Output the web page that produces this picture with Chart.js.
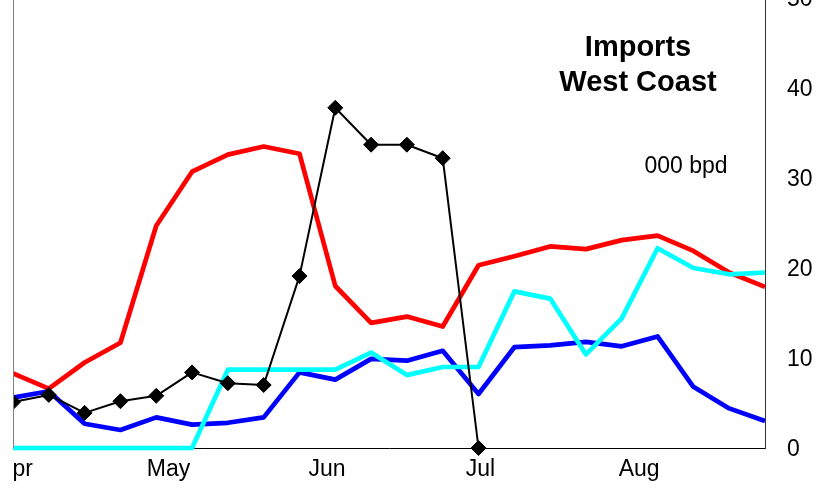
<!DOCTYPE html>
<html>
<head>
<meta charset="utf-8">
<script src="https://cdn.jsdelivr.net/npm/chart.js@4/dist/chart.umd.min.js"></script>
<style>
  html, body { margin: 0; padding: 0; background: #fff; overflow: hidden; }
  body { width: 824px; height: 498px; position: relative; }
  #wrap { position: absolute; left: -20px; top: -20px; width: 864px; height: 538px; }
</style>
</head>
<body>
<div id="wrap"><canvas id="chart_imports"></canvas></div>
<script>
// weekly points, days counted from 1 April
const weekDays = [0, 7, 14, 21, 28, 35, 42, 49, 56, 63, 70, 77, 84, 91, 98, 105, 112, 119, 126, 133, 140, 147];
const monthTicks = [0, 30, 61, 91, 122];
const monthLabels = ['Apr', 'May', 'Jun', 'Jul', 'Aug'];
const yTicks = [0, 10, 20, 30, 40, 50];

const redSeries   = [8.3, 6.6, 9.5, 11.7, 24.7, 30.7, 32.6, 33.5, 32.7, 18.0, 13.9, 14.6, 13.5, 20.3, 21.3, 22.4, 22.1, 23.1, 23.6, 21.9, 19.5, 17.9];
const blueSeries  = [5.6, 6.3, 2.7, 2.0, 3.4, 2.6, 2.8, 3.4, 8.4, 7.6, 9.9, 9.7, 10.8, 6.0, 11.2, 11.4, 11.8, 11.3, 12.4, 6.8, 4.4, 3.0];
const cyanSeries  = [0, 0, 0, 0, 0, 0, 8.7, 8.7, 8.7, 8.7, 10.6, 8.1, 9.0, 9.0, 17.4, 16.6, 10.4, 14.4, 22.2, 20.0, 19.3, 19.5];
const blackSeries = [5.1, 5.9, 3.9, 5.2, 5.8, 8.4, 7.2, 7.0, 19.1, 37.8, 33.7, 33.7, 32.2, 0, null, null, null, null, null, null, null, null];

const FONT = "'Liberation Sans', Arial, sans-serif";

function pts(values) {
    return weekDays.map((d, i) => ({ x: d, y: values[i] }));
}

const textPlugin = {
    id: 'textPlugin',
    afterDraw(chart) {
        const ctx = chart.ctx;
        const a = chart.chartArea;
        ctx.save();
        // the picture is cut at the left edge of the plot
        ctx.fillStyle = '#fff';
        ctx.fillRect(0, 0, Math.round(a.left), chart.height);
        ctx.strokeStyle = '#808080';
        ctx.lineWidth = 1;
        ctx.beginPath();
        ctx.moveTo(Math.round(a.left) + 0.5, 0);
        ctx.lineTo(Math.round(a.left) + 0.5, a.bottom);
        ctx.stroke();

        ctx.fillStyle = '#000';
        ctx.textAlign = 'center';
        ctx.textBaseline = 'middle';
        ctx.font = 'bold 29px ' + FONT;
        ctx.fillText('Imports', a.right - 127, a.top + 50);
        ctx.fillText('West Coast', a.right - 127, a.top + 85);
        ctx.font = '23px ' + FONT;
        ctx.fillText('000 bpd', a.right - 79, a.top + 169);
        ctx.restore();
    }
};

function ChartInit() {
    const ctx = document.getElementById('chart_imports').getContext('2d');
    const myChart = new Chart(ctx, {
        type: 'line',
        data: {
            datasets: [{
                label: 'black',
                data: pts(blackSeries),
                borderColor: '#000',
                backgroundColor: '#000',
                borderWidth: 2,
                pointStyle: 'rectRot',
                pointRadius: 7.5,
                pointBorderWidth: 1,
                spanGaps: false,
                clip: false,
                order: 1
            }, {
                label: 'cyan',
                data: pts(cyanSeries),
                borderColor: '#00FFFF',
                borderWidth: 4.7,
                pointRadius: 0,
                clip: false,
                order: 2
            }, {
                label: 'blue',
                data: pts(blueSeries),
                borderColor: '#0000FF',
                borderWidth: 4.7,
                pointRadius: 0,
                clip: false,
                order: 3
            }, {
                label: 'red',
                data: pts(redSeries),
                borderColor: '#FF0000',
                borderWidth: 4.7,
                pointRadius: 0,
                clip: false,
                order: 4
            }]
        },
        options: {
            responsive: true,
            maintainAspectRatio: false,
            animation: false,
            layout: { padding: { left: 33, top: 18, right: 0, bottom: 0 } },
            elements: { line: { tension: 0, borderJoinStyle: 'round', borderCapStyle: 'butt' } },
            plugins: { legend: { display: false }, tooltip: { enabled: false } },
            scales: {
                x: {
                    type: 'linear',
                    min: weekDays[0],
                    max: weekDays[weekDays.length - 1],
                    afterBuildTicks: (scale) => { scale.ticks = monthTicks.map(v => ({ value: v })); },
                    afterFit: (scale) => { scale.height = 70; },
                    grid: { display: false, drawTicks: false },
                    border: { display: true, color: '#000', width: 1 },
                    ticks: {
                        autoSkip: false,
                        maxRotation: 0,
                        padding: 8,
                        labelOffset: 2,
                        color: '#000',
                        font: { family: FONT, size: 23 },
                        callback: (v) => monthLabels[monthTicks.indexOf(v)]
                    }
                },
                y: {
                    position: 'right',
                    min: 0,
                    max: 50,
                    afterBuildTicks: (scale) => { scale.ticks = yTicks.map(v => ({ value: v })); },
                    afterFit: (scale) => { scale.width = 79; },
                    grid: {
                        display: true,
                        drawOnChartArea: false,
                        drawTicks: true,
                        tickLength: 22,
                        color: 'rgba(0,0,0,0)',
                        tickColor: 'rgba(0,0,0,0)'
                    },
                    border: { display: true, color: '#333', width: 1 },
                    ticks: {
                        padding: 0,
                        labelOffset: 1.5,
                        color: '#000',
                        font: { family: FONT, size: 23 }
                    }
                }
            }
        },
        plugins: [textPlugin]
    });
}

window.addEventListener('DOMContentLoaded', (event) => {
    ChartInit();
});
</script>
</body>
</html>
